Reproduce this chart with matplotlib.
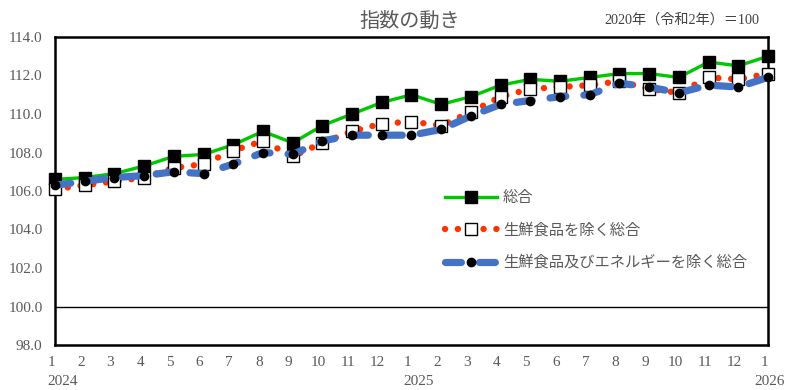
import matplotlib
matplotlib.use("Agg")
import matplotlib.pyplot as plt
import matplotlib.transforms as mtransforms

# data
months = ["1", "2", "3", "4", "5", "6", "7", "8", "9", "10", "11", "12",
          "1", "2", "3", "4", "5", "6", "7", "8", "9", "10", "11", "12", "1"]
years = {0: "2024", 12: "2025", 24: "2026"}
total = [106.6, 106.7, 106.9, 107.3, 107.8, 107.9, 108.4, 109.1, 108.5, 109.4, 110.0, 110.6,
         111.0, 110.5, 110.9, 111.5, 111.8, 111.7, 111.9, 112.1, 112.1, 111.9, 112.7, 112.5, 113.0]
core = [106.1, 106.3, 106.5, 106.7, 107.2, 107.4, 108.1, 108.6, 107.8, 108.5, 109.1, 109.5,
        109.6, 109.4, 110.1, 110.9, 111.3, 111.4, 111.5, 111.7, 111.3, 111.1, 111.9, 111.8, 112.1]
corecore = [106.3, 106.5, 106.7, 106.8, 107.0, 106.9, 107.4, 108.0, 107.9, 108.6, 108.9, 108.9,
            108.9, 109.2, 109.9, 110.5, 110.7, 110.9, 111.0, 111.6, 111.4, 111.1, 111.5, 111.4, 111.9]
labels = ["総合", "生鮮食品を除く総合", "生鮮食品及びエネルギーを除く総合"]
yticks = [98, 100, 102, 104, 106, 108, 110, 112, 114]

num_font = ["Liberation Serif", "Noto Sans CJK JP"]
jp_font = ["Noto Sans CJK JP", "DejaVu Sans"]
grey = "#595959"

fig = plt.figure(figsize=(7.88, 3.90), dpi=100)
ax = fig.add_axes([55 / 788, 1 - 345 / 390, 713 / 788, 308 / 390])

x = list(range(len(total)))
ax.axhline(100, color="black", lw=1.0, zorder=1)

ax.plot(x, total, color="#00c800", lw=2.4, marker="s", ms=9, mfc="black", mec="black",
        clip_on=False, zorder=3, label=labels[0])
ax.plot(x, core, color="#ff3300", lw=4.6, dashes=(0.01, 2.0), dash_capstyle="round",
        marker="s", ms=8.6, mfc="white", mec="black", mew=1.0,
        clip_on=False, zorder=4, label=labels[1])
ax.plot(x, corecore, color="#4472c4", lw=5.2, dashes=(2.2, 2.5), dash_capstyle="round",
        marker="o", ms=6, mfc="black", mec="black",
        clip_on=False, zorder=5, label=labels[2])

ax.set_xlim(0, 24)
ax.set_ylim(98, 114)
ax.set_yticks(yticks)
ax.set_yticklabels(["%.1f" % v for v in yticks], family=num_font, fontsize=11, color=grey)
ax.set_xticks(x)
ax.set_xticklabels(months, family=num_font, fontsize=11, color=grey)
ax.tick_params(axis="y", length=0, pad=9)
ax.tick_params(axis="x", length=0, pad=8)
shift = mtransforms.ScaledTranslation(-4 / 100, 0, fig.dpi_scale_trans)
for t in ax.get_xticklabels():
    t.set_transform(t.get_transform() + shift)

for s in ax.spines.values():
    s.set_linewidth(1.8)
    s.set_color("black")

trans = mtransforms.blended_transform_factory(ax.transData, ax.transAxes)
for i, yr in years.items():
    off = mtransforms.ScaledTranslation(-8 / 100 if i < 24 else -14 / 100, 0, fig.dpi_scale_trans)
    ax.text(i, -0.118, yr, transform=trans + off, ha="left", va="center",
            family=num_font, fontsize=11, color=grey, clip_on=False)

fig.text(0.52, 0.945, "指数の動き", ha="center", va="center", family=jp_font,
         fontsize=14.5, color=grey)
fig.text(0.964, 0.95, "2020年（令和2年）＝100", ha="right", va="center",
         family=num_font, fontsize=10.2, color="#404040")

leg = ax.legend(loc="upper left", bbox_to_anchor=(0.547, 0.505), frameon=False,
                numpoints=1, handlelength=3.4, handletextpad=0.4, labelspacing=1.0,
                borderpad=0, borderaxespad=0, prop={"family": jp_font, "size": 11})
for t in leg.get_texts():
    t.set_color(grey)

fig.savefig("out.png", dpi=100)
